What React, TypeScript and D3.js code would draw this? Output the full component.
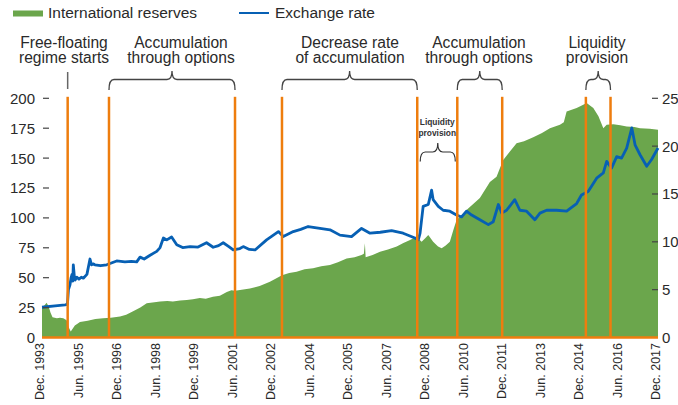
import React from "react";
import * as d3 from "d3";

// International reserves (billion USD), [decimal year, value]
const reservesData: [number, number][] = [
  [1993.92, 25], [1994.02, 27], [1994.1, 29], [1994.18, 26], [1994.25, 21], [1994.33, 17],
  [1994.5, 16], [1994.62, 16.5], [1994.75, 16], [1994.88, 14.5], [1994.95, 9], [1995.04, 5],
  [1995.1, 7], [1995.2, 10], [1995.4, 13], [1995.7, 14], [1996.0, 15.5], [1996.3, 16],
  [1996.6, 16.5], [1996.96, 17.5], [1997.2, 19], [1997.47, 22], [1997.75, 25], [1998.0, 28.6],
  [1998.3, 29.5], [1998.52, 30], [1998.8, 30.5], [1999.02, 30], [1999.3, 31], [1999.56, 31.4],
  [1999.8, 32], [2000.07, 33], [2000.3, 32.5], [2000.58, 34], [2000.85, 35], [2001.12, 38],
  [2001.3, 39.5], [2001.44, 39], [2001.7, 40], [2002.02, 41], [2002.4, 43], [2002.8, 46.7],
  [2003.0, 49], [2003.27, 52], [2003.55, 54], [2003.84, 55], [2004.15, 57], [2004.48, 58],
  [2004.8, 59.5], [2005.14, 60.7], [2005.45, 63], [2005.79, 66], [2006.1, 67], [2006.37, 69],
  [2006.46, 70], [2006.5, 78.8], [2006.53, 67], [2006.8, 69], [2007.09, 71.8], [2007.4, 73.5],
  [2007.74, 76], [2008.0, 79], [2008.26, 81.6], [2008.52, 84.4], [2008.62, 82], [2008.71, 80],
  [2008.85, 83], [2008.97, 85.8], [2009.16, 80], [2009.35, 76], [2009.49, 74.6], [2009.65, 77],
  [2009.81, 80], [2009.95, 90], [2010.07, 98], [2010.46, 106.7], [2010.98, 116.7], [2011.37, 130],
  [2011.63, 134.5], [2011.76, 141.6], [2011.89, 148.5], [2012.15, 155.5], [2012.41, 162.5],
  [2012.7, 164], [2013.06, 167.5], [2013.4, 171], [2013.71, 175], [2014.1, 177.8], [2014.25, 180],
  [2014.36, 189], [2014.75, 191.8], [2014.95, 194], [2015.14, 196], [2015.4, 191.8], [2015.6, 185],
  [2015.79, 175], [2015.92, 177.8], [2016.18, 178.4], [2016.45, 177.5], [2016.7, 176.4],
  [2017.0, 176], [2017.22, 175], [2017.6, 174.5], [2017.92, 173.6],
];

// Exchange rate (pesos per USD), [decimal year, value]
const exchangeData: [number, number][] = [
  [1993.92, 3.16], [1994.43, 3.3], [1994.82, 3.4], [1994.91, 3.45], [1994.95, 5.0], [1995.01, 5.5],
  [1995.05, 6.2], [1995.09, 6.6], [1995.12, 5.9], [1995.14, 7.6], [1995.18, 6.4], [1995.21, 6.0],
  [1995.28, 6.3], [1995.36, 6.1], [1995.45, 6.3], [1995.53, 6.2], [1995.67, 6.6],
  [1995.79, 8.2], [1995.85, 7.6], [1995.91, 7.7], [1995.98, 7.6], [1996.2, 7.5], [1996.44, 7.6],
  [1996.83, 8.0], [1997.15, 7.9], [1997.4, 7.95], [1997.61, 7.9], [1997.74, 8.4], [1997.9, 8.2],
  [1998.13, 8.6], [1998.39, 9.0], [1998.52, 9.4], [1998.65, 10.4],
  [1998.78, 10.2], [1998.97, 10.5], [1999.17, 9.7], [1999.4, 9.4], [1999.69, 9.5], [2000.0, 9.45],
  [2000.33, 9.9], [2000.59, 9.43], [2000.8, 9.6],
  [2000.98, 9.9], [2001.2, 9.5], [2001.37, 9.15], [2001.63, 9.3], [2001.76, 9.5], [2002.0, 9.2],
  [2002.22, 9.15], [2002.67, 10.2],
  [2003.13, 11.07], [2003.32, 10.55], [2003.71, 11.07], [2004.0, 11.3], [2004.29, 11.6], [2004.75, 11.4],
  [2005.14, 11.25], [2005.53, 10.7], [2005.98, 10.55], [2006.37, 11.4], [2006.7, 10.9],
  [2007.1, 11.0], [2007.54, 11.17], [2007.99, 10.9], [2008.45, 10.4], [2008.58, 10.2], [2008.65, 10.9],
  [2008.77, 13.7], [2008.97, 13.9], [2009.1, 15.4], [2009.16, 14.4], [2009.36, 13.7],
  [2009.55, 13.3], [2009.81, 13.2], [2010.07, 12.8], [2010.27, 12.6], [2010.46, 13.2],
  [2010.66, 12.8], [2010.98, 12.3], [2011.31, 11.8], [2011.5, 12.1], [2011.7, 13.9], [2011.83, 13.0],
  [2012.02, 13.3], [2012.34, 14.4], [2012.54, 13.3], [2012.8, 13.2], [2013.12, 12.3], [2013.32, 13.0],
  [2013.58, 13.3], [2013.97, 13.3], [2014.36, 13.2], [2014.75, 14.0], [2014.94, 14.9], [2015.2, 15.25],
  [2015.53, 16.65], [2015.79, 17.2], [2015.92, 18.4], [2016.11, 17.7], [2016.31, 18.9], [2016.5, 18.75],
  [2016.7, 19.8], [2016.9, 21.9], [2017.03, 20.1], [2017.22, 19.1], [2017.48, 17.9], [2017.67, 18.6],
  [2017.92, 19.8],
];

const eventDates = [1994.92, 1996.53, 2001.44, 2003.27, 2008.54, 2010.1, 2011.85, 2015.11, 2016.07];

const tickDates = [1993.92, 1995.42, 1996.92, 1998.42, 1999.92, 2001.42, 2002.92, 2004.42, 2005.92,
  2007.42, 2008.92, 2010.42, 2011.92, 2013.42, 2014.92, 2016.42, 2017.92];
const tickLabels = ["Dec. 1993", "Jun. 1995", "Dec. 1996", "Jun. 1998", "Dec. 1999", "Jun. 2001",
  "Dec. 2002", "Jun. 2004", "Dec. 2005", "Jun. 2007", "Dec. 2008", "Jun. 2010", "Dec. 2011",
  "Jun. 2013", "Dec. 2014", "Jun. 2016", "Dec. 2017"];

const leftTicks = [0, 25, 50, 75, 100, 125, 150, 175, 200];
const rightTicks = [0, 5, 10, 15, 20, 25];

// top annotations: label lines, bracket start/end event index (same index = single marker)
const annotations = [
  { lines: ["Free-floating", "regime starts"], from: 0, to: 0, textX: 64 },
  { lines: ["Accumulation", "through options"], from: 1, to: 2, textX: 181 },
  { lines: ["Decrease rate", "of accumulation"], from: 3, to: 4, textX: 350 },
  { lines: ["Accumulation", "through options"], from: 5, to: 6, textX: 479 },
  { lines: ["Liquidity", "provision"], from: 7, to: 8, textX: 597 },
];
const innerAnnotation = { lines: ["Liquidity", "provision"], from: 4, to: 5 };

const GREEN = "#6ba64c";
const BLUE = "#0760b4";
const ORANGE = "#ee7d0e";
const TEXT = "#2a2a2a";
const FONT = "'Liberation Sans', Arial, Helvetica, sans-serif";

function bracePath(x1: number, x2: number, yEnd: number, yMid: number, yTip: number) {
  const xm = (x1 + x2) / 2;
  const r = Math.min(5, (x2 - x1) / 4);
  return `M${x1},${yEnd} Q${x1},${yMid} ${x1 + r},${yMid} L${xm - r},${yMid} Q${xm},${yMid} ${xm},${yTip} Q${xm},${yMid} ${xm + r},${yMid} L${x2 - r},${yMid} Q${x2},${yMid} ${x2},${yEnd}`;
}

export default function App() {
  const x = d3.scaleLinear().domain([1993.92, 2017.92]).range([42, 658]);
  const yL = d3.scaleLinear().domain([0, 200]).range([337.5, 98.3]);
  const yR = d3.scaleLinear().domain([0, 25]).range([337.5, 98.3]);

  const area = d3.area<[number, number]>()
    .x((d) => x(d[0]))
    .y0(yL(0))
    .y1((d) => yL(d[1]))(reservesData) || "";
  const line = d3.line<[number, number]>()
    .x((d) => x(d[0]))
    .y((d) => yR(d[1]))(exchangeData) || "";

  const yTop = yL(200) - 1.5;

  return (
    <svg width={678} height={405} style={{ position: "absolute", left: 0, top: 0, background: "#fff" }}
      fontFamily={FONT}>
      {/* legend */}
      <rect x={13} y={10.5} width={30} height={6} fill={GREEN} />
      <text x={48} y={17.8} fontSize={15.5} fill={TEXT}>International reserves</text>
      <line x1={239} x2={269} y1={13} y2={13} stroke={BLUE} strokeWidth={2} />
      <text x={275} y={17.8} fontSize={15.5} fill={TEXT}>Exchange rate</text>

      {/* annotations */}
      {annotations.map((a, i) => (
        <g key={i}>
          {a.lines.map((l, j) => (
            <text key={j} x={a.textX} y={48 + j * 15.3} fontSize={15.6} textAnchor="middle" fill={TEXT}>{l}</text>
          ))}
          {a.from === a.to ? (
            <line x1={x(eventDates[a.from])} x2={x(eventDates[a.from])} y1={72} y2={89} stroke="#666" strokeWidth={1.5} />
          ) : (
            <path d={bracePath(x(eventDates[a.from]), x(eventDates[a.to]), 90, 79.5, 71)} fill="none" stroke="#444" strokeWidth={1.3} />
          )}
        </g>
      ))}

      {/* area */}
      <path d={area} fill={GREEN} />

      {/* exchange rate line */}
      <path d={line} fill="none" stroke={BLUE} strokeWidth={2.8} strokeLinejoin="round" />

      {/* event lines */}
      {eventDates.map((t, i) => (
        <line key={i} x1={x(t)} x2={x(t)} y1={yTop} y2={yL(0)} stroke={ORANGE} strokeWidth={2.5} />
      ))}
      <line x1={x(1993.92)} x2={x(2017.92)} y1={yL(0)} y2={yL(0)} stroke={ORANGE} strokeWidth={2.5} />

      {/* inner annotation */}
      {innerAnnotation.lines.map((l, j) => (
        <text key={j} x={(x(eventDates[innerAnnotation.from]) + x(eventDates[innerAnnotation.to])) / 2}
          y={124.7 + j * 11.3} fontSize={8.4} fontWeight="bold" textAnchor="middle" fill="#333">{l}</text>
      ))}
      <path d={bracePath(x(eventDates[innerAnnotation.from]) + 3, x(eventDates[innerAnnotation.to]) - 2, 161.5, 152, 143)}
        fill="none" stroke="#333" strokeWidth={1.2} />

      {/* left axis */}
      {leftTicks.map((v) => (
        <g key={v}>
          {v > 0 && <line x1={43} x2={49} y1={yL(v)} y2={yL(v)} stroke="#444" strokeWidth={1.2} />}
          <text x={35} y={yL(v)} dy="0.36em" fontSize={15} textAnchor="end" fill={TEXT}>{v}</text>
        </g>
      ))}

      {/* right axis */}
      {rightTicks.map((v) => (
        <g key={v}>
          {v > 0 && <line x1={652} x2={658} y1={yR(v)} y2={yR(v)} stroke="#444" strokeWidth={1.2} />}
          <text x={662} y={yR(v)} dy="0.36em" fontSize={15} textAnchor="start" fill={TEXT}>{v}</text>
        </g>
      ))}

      {/* x axis labels */}
      {tickDates.map((t, i) => (
        <text key={i} transform={`translate(${x(t) - 2.5},343) rotate(-90)`} dy="0.36em"
          fontSize={12.5} textAnchor="end" fill={TEXT}>{tickLabels[i]}</text>
      ))}
    </svg>
  );
}
